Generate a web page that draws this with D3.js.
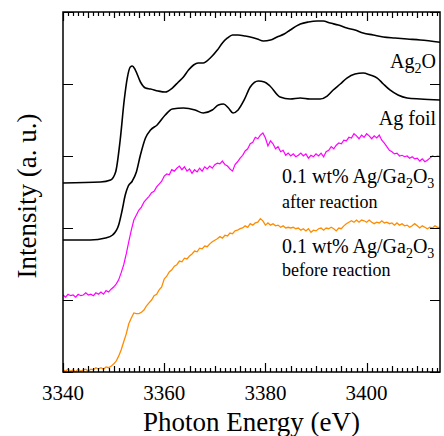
<!DOCTYPE html>
<html>
<head>
<meta charset="utf-8">
<script src="https://cdn.jsdelivr.net/npm/d3@7"></script>
<style>
  body { margin: 0; background: #fff; }
</style>
</head>
<body>
<div id="chart"></div>
<script>
// Photon energy axis (eV)
const xTicks = [3340, 3360, 3380, 3400];
const energyRange = [3340, 3414.5];
const yTicks = [0, 1, 2, 3, 4, 5];

// Ag2O reference spectrum (energy, intensity in a. u.)
const ag2oE = [3340, 3347.4, 3349.4, 3350.4, 3351.3, 3352.1, 3352.7, 3353.3, 3353.7, 3354.3,
  3355.3, 3356.3, 3357.3, 3358.8, 3360.2, 3361.6, 3362.8, 3363.8, 3364.8, 3365.8,
  3366.7, 3367.7, 3369.1, 3370.5, 3371.5, 3372.5, 3373.5, 3374.6, 3376.0, 3377.0,
  3378.4, 3379.6, 3381.0, 3382.3, 3383.7, 3384.9, 3386.9, 3388.5, 3390.2, 3391.4,
  3392.8, 3394.4, 3396.1, 3397.7, 3399.3, 3401.3, 3403.3, 3405.6, 3408.0, 3410.6, 3414.5];
const ag2oI = [2.625, 2.639, 2.667, 2.778, 3.222, 3.778, 4.083, 4.236, 4.25, 4.194,
  4.028, 3.944, 3.931, 3.903, 3.889, 3.944, 4.028, 4.097, 4.194, 4.264,
  4.292, 4.292, 4.361, 4.472, 4.569, 4.639, 4.681, 4.681, 4.667, 4.653,
  4.625, 4.597, 4.611, 4.653, 4.694, 4.75, 4.833, 4.861, 4.875, 4.875,
  4.847, 4.819, 4.778, 4.75, 4.708, 4.681, 4.653, 4.639, 4.625, 4.611, 4.58];

// Ag foil reference spectrum
const agFoilE = [3340, 3345.4, 3348.4, 3349.8, 3351.0, 3351.7, 3352.3, 3352.9, 3353.7, 3354.5,
  3355.3, 3356.3, 3357.3, 3358.6, 3360.2, 3361.6, 3363.8, 3366.1, 3367.7, 3369.5,
  3370.7, 3371.7, 3372.7, 3373.6, 3374.6, 3375.8, 3377.0, 3378.6, 3379.8, 3380.9,
  3382.9, 3384.9, 3386.9, 3388.8, 3390.8, 3392.2, 3393.4, 3394.8, 3396.1, 3397.7,
  3399.3, 3400.7, 3402.1, 3403.3, 3404.6, 3406.2, 3408.0, 3410.6, 3414.5];
const agFoilI = [1.833, 1.833, 1.861, 1.903, 2.042, 2.25, 2.458, 2.583, 2.653, 2.778,
  3.014, 3.25, 3.361, 3.431, 3.569, 3.653, 3.667, 3.639, 3.597, 3.639,
  3.708, 3.722, 3.667, 3.597, 3.639, 3.778, 3.958, 4.042, 4.028, 3.972,
  3.819, 3.792, 3.806, 3.792, 3.792, 3.833, 3.917, 4.0, 4.083, 4.139,
  4.153, 4.125, 4.083, 4.0, 3.917, 3.847, 3.806, 3.792, 3.778];

// 0.1 wt% Ag/Ga2O3 spectra, sampled every 0.5 eV from 3340 eV
const sampleStart = 3340, sampleStep = 0.5;
const afterI = [
  1.07, 1.04, 1.08, 1.06, 1.07, 1.04, 1.08, 1.06, 1.07, 1.10,
  1.07, 1.08, 1.06, 1.10, 1.08, 1.11, 1.08, 1.13, 1.11, 1.15,
  1.18, 1.22, 1.28, 1.38, 1.49, 1.64, 1.81, 1.97, 2.11, 2.18,
  2.25, 2.29, 2.36, 2.40, 2.44, 2.49, 2.51, 2.57, 2.61, 2.65,
  2.72, 2.75, 2.74, 2.81, 2.79, 2.83, 2.86, 2.81, 2.85, 2.79,
  2.82, 2.76, 2.81, 2.78, 2.83, 2.79, 2.85, 2.82, 2.86, 2.83,
  2.88, 2.90, 2.89, 2.93, 2.88, 2.86, 2.82, 2.79, 2.88, 2.92,
  2.97, 3.01, 3.07, 3.10, 3.17, 3.19, 3.26, 3.24, 3.29, 3.32,
  3.25, 3.14, 3.21, 3.17, 3.10, 3.13, 3.06, 3.08, 3.01, 3.04,
  3.00, 3.03, 2.99, 3.01, 3.04, 3.00, 3.03, 2.97, 3.01, 2.99,
  3.03, 3.00, 3.04, 2.99, 3.06, 3.08, 3.13, 3.10, 3.15, 3.18,
  3.17, 3.22, 3.21, 3.26, 3.25, 3.31, 3.28, 3.24, 3.29, 3.26,
  3.31, 3.28, 3.24, 3.28, 3.25, 3.29, 3.22, 3.18, 3.13, 3.08,
  3.06, 3.03, 3.04, 3.00, 3.01, 2.99, 3.00, 2.97, 2.99, 2.96,
  2.97, 2.93, 2.96, 2.92, 2.94, 2.97, 3.00, 2.99, 3.00, 2.99];
const beforeI = [
  0.03, 0.01, 0.04, 0.01, 0.03, 0.00, 0.04, 0.01, 0.03, 0.04,
  0.01, 0.04, 0.03, 0.06, 0.04, 0.06, 0.04, 0.07, 0.06, 0.08,
  0.11, 0.15, 0.22, 0.31, 0.42, 0.53, 0.67, 0.75, 0.82, 0.81,
  0.81, 0.83, 0.86, 0.92, 0.96, 1.00, 1.06, 1.08, 1.14, 1.18,
  1.29, 1.33, 1.39, 1.42, 1.47, 1.49, 1.54, 1.53, 1.58, 1.57,
  1.61, 1.64, 1.68, 1.67, 1.72, 1.71, 1.75, 1.74, 1.78, 1.81,
  1.83, 1.85, 1.88, 1.86, 1.90, 1.89, 1.93, 1.92, 1.96, 1.97,
  1.99, 2.00, 2.03, 2.01, 2.06, 2.04, 2.07, 2.08, 2.13, 2.10,
  2.04, 2.07, 2.04, 2.06, 2.03, 2.04, 2.01, 2.03, 2.00, 2.01,
  2.00, 2.01, 1.99, 2.00, 1.97, 1.99, 1.96, 1.99, 1.94, 1.97,
  1.96, 1.99, 2.00, 1.97, 2.00, 1.99, 2.01, 1.99, 1.96, 2.00,
  1.99, 2.03, 2.06, 2.08, 2.10, 2.08, 2.11, 2.08, 2.11, 2.10,
  2.08, 2.11, 2.08, 2.06, 2.08, 2.07, 2.10, 2.07, 2.08, 2.06,
  2.07, 2.04, 2.07, 2.04, 2.06, 2.03, 2.04, 2.01, 2.03, 2.06,
  2.03, 2.00, 2.03, 2.01, 1.99, 2.01, 2.00, 2.03, 2.01, 2.01];

const serif = '"Liberation Serif", serif';

let w = 444, h = 436,
  m = { left: 63, right: 4, top: 12, bottom: 64 },
  pw = w - m.left - m.right,
  ph = h - m.top - m.bottom;

let svg = d3.select('#chart').append('svg')
  .attr('width', w).attr('height', h)
  .attr('font-family', serif);

let x = d3.scaleLinear().domain(energyRange).range([0, pw]),
  y = d3.scaleLinear().domain([0, 5]).range([ph, 0]);

let g = svg.append('g').attr('transform', `translate(${m.left},${m.top})`);

g.append('clipPath').attr('id', 'clip')
  .append('rect').attr('width', pw).attr('height', ph);

// Spectra
let smooth = d3.line().x(d => x(d[0])).y(d => y(d[1])).curve(d3.curveMonotoneX),
  raw = d3.line().x(d => x(d[0])).y(d => y(d[1]));

let plot = g.append('g').attr('clip-path', 'url(#clip)');

plot.append('path').datum(d3.zip(ag2oE, ag2oI))
  .attr('d', smooth).attr('fill', 'none').attr('stroke', '#000').attr('stroke-width', 1.6);
plot.append('path').datum(d3.zip(agFoilE, agFoilI))
  .attr('d', smooth).attr('fill', 'none').attr('stroke', '#000').attr('stroke-width', 1.6);
plot.append('path').datum(afterI.map((v, i) => [sampleStart + i * sampleStep, v]))
  .attr('d', raw).attr('fill', 'none').attr('stroke', '#ff00ff').attr('stroke-width', 1.2);
plot.append('path').datum(beforeI.map((v, i) => [sampleStart + i * sampleStep, v]))
  .attr('d', raw).attr('fill', 'none').attr('stroke', '#ff8c00').attr('stroke-width', 1.3);

// Frame
g.append('rect').attr('width', pw).attr('height', ph)
  .attr('fill', 'none').attr('stroke', '#000').attr('stroke-width', 1.5);

// x ticks on top and bottom, pointing inward:
// labelled every 20 eV, medium every 5 eV, small every 1 eV
let minorVals = d3.range(3341, 3415, 1).filter(v => v % 5 !== 0),
  midVals = d3.range(3345, 3415, 5).filter(v => v % 20 !== 0),
  xTickSet = minorVals.map(v => [v, 4])
    .concat(midVals.map(v => [v, 6]), xTicks.map(v => [v, 9]));

let tickPath = d3.path();
xTickSet.forEach(([v, len]) => {
  let px = Math.round(x(v)) + 0.5;
  tickPath.moveTo(px, 0); tickPath.lineTo(px, len);
  tickPath.moveTo(px, ph); tickPath.lineTo(px, ph - len);
});
yTicks.forEach(v => {
  let py = Math.round(y(v)) + 0.5;
  tickPath.moveTo(0, py); tickPath.lineTo(10, py);
  tickPath.moveTo(pw, py); tickPath.lineTo(pw - 10, py);
});
g.append('path').attr('d', tickPath.toString())
  .attr('fill', 'none').attr('stroke', '#000').attr('stroke-width', 1.2);

g.append('g').selectAll('text').data(xTicks).enter().append('text')
  .attr('x', d => x(d)).attr('y', ph + 28)
  .attr('text-anchor', 'middle').style('font-family', serif).style('font-size', '21px')
  .text(d => String(d));

// Axis titles
svg.append('text').attr('x', m.left + pw / 2).attr('y', 431)
  .attr('text-anchor', 'middle').style('font-family', serif).style('font-size', '27px')
  .text('Photon Energy (eV)');
svg.append('text').attr('transform', 'translate(36,196) rotate(-90)')
  .attr('text-anchor', 'middle').style('font-family', serif).style('font-size', '27px')
  .text('Intensity (a. u.)');

// Curve labels with subscripts
function label(parts, xPos, yPos, anchor, size) {
  let t = svg.append('text').attr('x', xPos).attr('y', yPos)
    .attr('text-anchor', anchor).style('font-family', serif).style('font-size', size + 'px');
  parts.forEach(p => {
    let s = t.append('tspan').text(p[0]);
    if (p[1]) s.attr('dy', 5).style('font-size', (size * 0.7) + 'px');
    else if (p[2]) s.attr('dy', -5);
  });
}
label([['Ag'], ['2', true], ['O', false, true]], 436, 68, 'end', 20);
label([['Ag foil']], 436, 125, 'end', 20);
label([['0.1 wt% Ag/Ga'], ['2', true], ['O', false, true], ['3', true]], 282, 183, 'start', 20);
label([['after reaction']], 282, 208, 'start', 18);
label([['0.1 wt% Ag/Ga'], ['2', true], ['O', false, true], ['3', true]], 282, 253, 'start', 20);
label([['before reaction']], 282, 276, 'start', 18);
</script>
</body>
</html>
